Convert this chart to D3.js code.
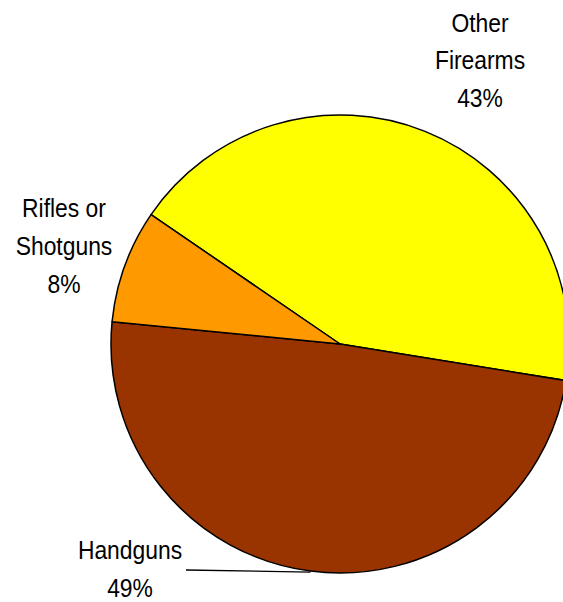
<!DOCTYPE html>
<html>
<head>
<meta charset="utf-8">
<script src="https://cdn.jsdelivr.net/npm/d3@7"></script>
<style>
  html, body { margin: 0; padding: 0; background: #fff; }
  svg { display: block; }
</style>
</head>
<body>
<svg id="chart" width="563" height="602"></svg>
<script>
const categories = ["Other Firearms", "Handguns", "Rifles or Shotguns"];
const values = [43, 49, 8];
const labelLines = [["Other", "Firearms", "43%"], ["Handguns", "49%"], ["Rifles or", "Shotguns", "8%"]];
const colors = ["#FFFF00", "#993300", "#FF9900"];

const svg = d3.select("#chart");
const cx = 340, cy = 344, r = 229;
const startDeg = -55.6;

const pie = d3.pie().sort(null).value(d => d)
  .startAngle(startDeg * Math.PI / 180)
  .endAngle((startDeg + 360) * Math.PI / 180);
const arcs = pie(values);
const arc = d3.arc().innerRadius(0).outerRadius(r);

const g = svg.append("g").attr("transform", `translate(${cx},${cy})`);
g.selectAll("path").data(arcs).enter().append("path")
  .attr("d", arc)
  .attr("fill", (d, i) => colors[i])
  .attr("stroke", "#000")
  .attr("stroke-width", 1.5)
  .attr("stroke-linejoin", "round");

// label positions (centre x, first baseline)
const labelPos = [[480, 32], [130, 559], [64, 217]];
const lineGap = [37.5, 38, 38];

labelLines.forEach((lines, i) => {
  const t = svg.append("text")
    .attr("transform", `translate(${labelPos[i][0]},0) scale(0.88,1)`)
    .attr("text-anchor", "middle")
    .attr("font-family", "'Liberation Sans', Arial, sans-serif")
    .attr("font-size", 26)
    .attr("fill", "#000");
  lines.forEach((s, j) => {
    t.append("tspan").attr("x", 0).attr("y", labelPos[i][1] + j * lineGap[i]).text(s);
  });
});

// leader line for Handguns
const hg = arcs[1];
const mid = (hg.startAngle + hg.endAngle) / 2;
svg.append("path")
  .attr("d", `M186,570 L${cx + r * Math.sin(mid)},${cy - r * Math.cos(mid) + 1}`)
  .attr("stroke", "#000")
  .attr("stroke-width", 1.3)
  .attr("fill", "none");
</script>
</body>
</html>
